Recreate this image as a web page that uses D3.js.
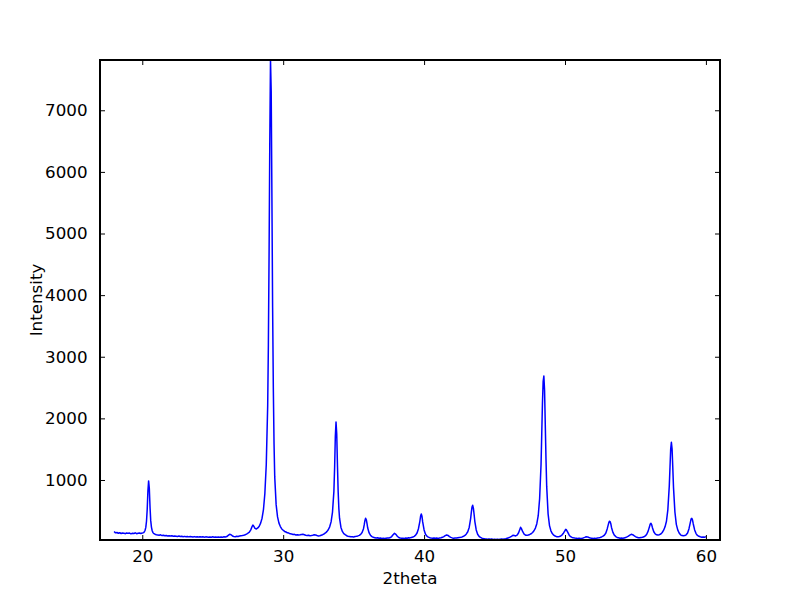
<!DOCTYPE html>
<html>
<head>
<meta charset="utf-8">
<script src="https://cdn.jsdelivr.net/npm/d3@7"></script>
<style>
  html, body { margin: 0; padding: 0; background: #ffffff; }
  svg { display: block; }
  text { font-family: "DejaVu Sans", sans-serif; fill: #000; }
</style>
</head>
<body>
<svg id="chart" width="800" height="600"></svg>
<script>
// ---- data ----
const xTickValues = [20, 30, 40, 50, 60];
const yTickValues = [1000, 2000, 3000, 4000, 5000, 6000, 7000];
const xDomain = [17, 61];
const yDomain = [26, 7816];
const xLabel = "2theta";
const yLabel = "Intensity";

// [2theta, intensity]
const scanLow = [
  [18.0,165],[18.1,142],[18.2,148],[18.3,136],[18.4,144],[18.5,132],[18.6,140],[18.7,137],[18.8,128],[18.9,141],
  [19.0,134],[19.1,139],[19.2,126],[19.3,137],[19.4,131],[19.5,143],[19.6,129],[19.7,135],[19.8,140],[19.9,132],
  [20.0,138],[20.1,146],[20.15,160],[20.2,185],[20.25,230],[20.3,330],[20.35,520],[20.4,820],[20.45,985],[20.5,860],
  [20.55,560],[20.6,340],[20.65,235],[20.7,180],[20.75,150],[20.8,135],[20.9,120],[21.0,112],
  [21.1,108],[21.2,104],[21.3,110],[21.4,98],[21.5,102],[21.6,95],[21.7,99],[21.8,92],[21.9,96],[22.0,90],
  [22.1,94],[22.2,86],[22.3,91],[22.4,88],[22.5,84],[22.6,90],[22.7,82],[22.8,87],[22.9,80],[23.0,85],
  [23.1,79],[23.2,84],[23.3,77],[23.4,83],[23.5,80],[23.6,74],[23.7,81],[23.8,76],[23.9,79],[24.0,73],
  [24.1,78],[24.2,75],[24.3,80],[24.4,72],[24.5,77],[24.6,74],[24.7,70],[24.8,76],[24.9,72],[25.0,78],
  [25.1,71],[25.2,75],[25.3,69],[25.4,74],[25.5,70],[25.6,76],[25.7,72],[25.8,78],[25.9,75],[26.0,82],
  [26.1,100],[26.2,118],[26.3,112],[26.4,92],[26.5,84],[26.6,80],[26.7,86],[26.8,83],[26.9,90],[27.0,94],
  [27.1,98],[27.2,104],[27.3,112],[27.4,122],[27.5,136],[27.6,152],[27.7,190],[27.8,248],[27.85,268],[27.9,255],
  [28.0,215],[28.1,205],[28.2,222],[28.3,250],[28.4,300],[28.5,380],[28.6,520],[28.7,780],[28.8,1250],[28.9,2200],
  [28.95,3200],[29.0,4700],[29.05,6500],[29.1,7816],[29.15,7300],[29.2,5600],[29.25,3800],[29.3,2500],[29.35,1600],[29.4,1050],
  [29.5,600],[29.6,400],[29.7,300],[29.8,245],[29.9,205],[30.0,185],[30.1,165],[30.2,156],[30.3,142],[30.4,138],
  [30.5,126],[30.6,124],[30.7,116],[30.8,118],[30.9,108],[31.0,112],[31.1,106],[31.2,110],[31.3,116],[31.4,120],
  [31.5,112],[31.6,104],[31.7,98],[31.8,102],[31.9,95],[32.0,99],[32.1,104],[32.2,110],[32.3,106],[32.4,98],
  [32.5,92],[32.6,96],[32.7,104],[32.8,112],[32.9,124],[33.0,140],[33.1,162],[33.2,192],[33.3,240],[33.4,320],
  [33.5,480],[33.6,820],[33.65,1200],[33.7,1700],[33.75,1940],[33.8,1750],[33.85,1250],[33.9,820],[33.95,540],[34.0,380],
  [34.1,230],[34.2,165],[34.3,130],[34.4,112],[34.5,96],[34.6,88],[34.7,84],[34.8,78],[34.9,80],[35.0,76],
  [35.1,82],[35.2,86],[35.3,92],[35.4,102],[35.5,118],[35.6,148],[35.7,210],[35.75,270],[35.8,340],[35.85,378],
  [35.9,355],[35.95,290],[36.0,220],[36.1,140],[36.2,100],[36.3,82],[36.4,70],[36.5,64],[36.6,58],[36.7,62],
  [36.8,55],[36.9,58],[37.0,52],[37.1,56],[37.2,50],[37.3,55],[37.4,60],[37.5,57],[37.6,66],[37.7,82],
  [37.8,112],[37.9,135],[38.0,118],[38.1,86],[38.2,66],[38.3,58],[38.4,54],[38.5,56],[38.6,52],[38.7,58],
  [38.8,55],[38.9,62],[39.0,60],[39.1,68],[39.2,74],[39.3,86],[39.4,104],[39.5,140],[39.6,210],[39.7,330],
  [39.75,410],[39.8,448],[39.85,410],[39.9,320],[40.0,190]
];
const scanHigh = [
  [40.1,120],[40.2,88],[40.3,72],[40.4,64],[40.5,58],[40.6,55],[40.7,60],[40.8,54],[40.9,57],[41.0,52],
  [41.1,58],[41.2,62],[41.3,70],[41.4,82],[41.5,98],[41.6,108],[41.7,100],[41.8,82],[41.9,68],[42.0,60],
  [42.1,56],[42.2,60],[42.3,57],[42.4,62],[42.5,66],[42.6,70],[42.7,76],[42.8,86],[42.9,100],[43.0,124],
  [43.1,160],[43.2,230],[43.3,370],[43.35,470],[43.4,560],[43.45,589],[43.5,540],[43.55,440],[43.6,330],[43.7,190],
  [43.8,120],[43.9,86],[44.0,68],[44.1,56],[44.2,50],[44.3,46],[44.4,44],[44.5,40],[44.6,43],[44.7,38],
  [44.8,42],[44.9,36],[45.0,40],[45.1,35],[45.2,39],[45.3,34],[45.4,38],[45.5,41],[45.6,37],[45.7,44],
  [45.8,48],[45.9,56],[46.0,62],[46.1,72],[46.2,86],[46.3,102],[46.4,98],[46.5,92],[46.6,104],[46.7,140],
  [46.8,200],[46.85,232],[46.9,215],[47.0,160],[47.1,120],[47.2,104],[47.3,102],[47.4,108],[47.5,116],[47.6,128],
  [47.7,148],[47.8,176],[47.9,220],[48.0,290],[48.1,420],[48.2,700],[48.3,1250],[48.35,1750],[48.4,2250],[48.45,2600],
  [48.5,2688],[48.55,2450],[48.6,1900],[48.65,1350],[48.7,900],[48.8,450],[48.9,260],[49.0,175],[49.1,130],[49.2,105],
  [49.3,90],[49.4,80],[49.5,78],[49.6,84],[49.7,92],[49.8,110],[49.9,140],[50.0,180],[50.05,198],[50.1,192],
  [50.2,150],[50.3,104],[50.4,80],[50.5,68],[50.6,62],[50.7,58],[50.8,55],[50.9,52],[51.0,56],[51.1,50],
  [51.2,54],[51.3,60],[51.4,68],[51.5,78],[51.6,76],[51.7,66],[51.8,58],[51.9,54],[52.0,50],[52.1,54],
  [52.2,52],[52.3,58],[52.4,62],[52.5,68],[52.6,76],[52.7,88],[52.8,106],[52.9,140],[53.0,210],[53.1,300],
  [53.15,330],[53.2,325],[53.25,290],[53.3,230],[53.4,150],[53.5,105],[53.6,82],[53.7,68],[53.8,62],[53.9,56],
  [54.0,58],[54.1,54],[54.2,60],[54.3,66],[54.4,76],[54.5,90],[54.6,106],[54.7,118],[54.8,112],[54.9,96],
  [55.0,82],[55.1,70],[55.2,64],[55.3,62],[55.4,66],[55.5,70],[55.6,78],[55.7,92],[55.8,120],[55.9,170],
  [56.0,245],[56.05,285],[56.1,297],[56.15,275],[56.2,230],[56.3,160],[56.4,125],[56.5,110],[56.6,106],[56.7,112],
  [56.8,124],[56.9,148],[57.0,185],[57.1,240],[57.2,330],[57.3,520],[57.4,900],[57.45,1200],[57.5,1500],[57.55,1612],
  [57.6,1500],[57.65,1200],[57.7,880],[57.8,480],[57.9,280],[58.0,190],[58.1,140],[58.2,110],[58.3,98],[58.4,94],
  [58.5,98],[58.6,110],[58.7,140],[58.8,210],[58.9,315],[58.95,370],[59.0,378],[59.05,350],[59.1,290],[59.2,190],
  [59.3,130],[59.4,100],[59.5,86],[59.6,78],[59.7,72],[59.8,76],[59.9,70],[60.0,80]
];
const scan = scanLow.concat(scanHigh);

// ---- layout ----
const W = 800, H = 600;
const margin = { left: 100, right: 80, top: 60, bottom: 60 };
const iw = W - margin.left - margin.right;  // 620
const ih = H - margin.top - margin.bottom;  // 480

const svg = d3.select("#chart");
svg.append("rect").attr("width", W).attr("height", H).attr("fill", "#fff");

const x = d3.scaleLinear().domain(xDomain).range([0, iw]);
const y = d3.scaleLinear().domain(yDomain).range([ih, 0]);

const g = svg.append("g").attr("transform", `translate(${margin.left},${margin.top})`);

g.append("clipPath").attr("id", "plotclip")
  .append("rect").attr("x", 0).attr("y", 0).attr("width", iw).attr("height", ih);

const line = d3.line().x(d => x(d[0])).y(d => y(d[1]));
g.append("path")
  .datum(scan)
  .attr("clip-path", "url(#plotclip)")
  .attr("fill", "none")
  .attr("stroke", "#0000ff")
  .attr("stroke-width", 1.5)
  .attr("stroke-linejoin", "round")
  .attr("d", line);

const fs = 16.7;
const tickLen = 5;

// bottom axis (ticks inward)
const xb = g.append("g").attr("transform", `translate(0,${ih})`)
  .call(d3.axisBottom(x).tickValues(xTickValues).tickSizeInner(-tickLen).tickSizeOuter(0).tickPadding(tickLen + 5.5).tickFormat(d3.format("d")));
// top axis
const xt = g.append("g")
  .call(d3.axisTop(x).tickValues(xTickValues).tickSizeInner(-tickLen).tickSizeOuter(0).tickFormat(""));
// left axis
const yl = g.append("g")
  .call(d3.axisLeft(y).tickValues(yTickValues).tickSizeInner(-tickLen).tickSizeOuter(0).tickPadding(tickLen + 7.5).tickFormat(d3.format("d")));
// right axis
const yr = g.append("g").attr("transform", `translate(${iw},0)`)
  .call(d3.axisRight(y).tickValues(yTickValues).tickSizeInner(-tickLen).tickSizeOuter(0).tickFormat(""));

[xb, xt, yl, yr].forEach(a => {
  a.select(".domain").remove();
  a.selectAll(".tick line").attr("stroke", "#000").attr("stroke-width", 1);
  a.selectAll(".tick text").style("font-family", "'DejaVu Sans', sans-serif").style("font-size", fs + "px").attr("fill", "#000");
});
xb.selectAll(".tick text").attr("dy", "0.71em");

// frame
g.append("rect").attr("x", 0).attr("y", 0).attr("width", iw).attr("height", ih)
  .attr("fill", "none").attr("stroke", "#000").attr("stroke-width", 1.2)
  .attr("shape-rendering", "crispEdges");

// axis labels
svg.append("text")
  .attr("x", margin.left + iw / 2).attr("y", 584)
  .attr("text-anchor", "middle")
  .style("font-size", fs + "px")
  .text(xLabel);

svg.append("text")
  .attr("transform", `translate(42,${margin.top + ih / 2}) rotate(-90)`)
  .attr("text-anchor", "middle")
  .style("font-size", fs + "px")
  .text(yLabel);
</script>
</body>
</html>
